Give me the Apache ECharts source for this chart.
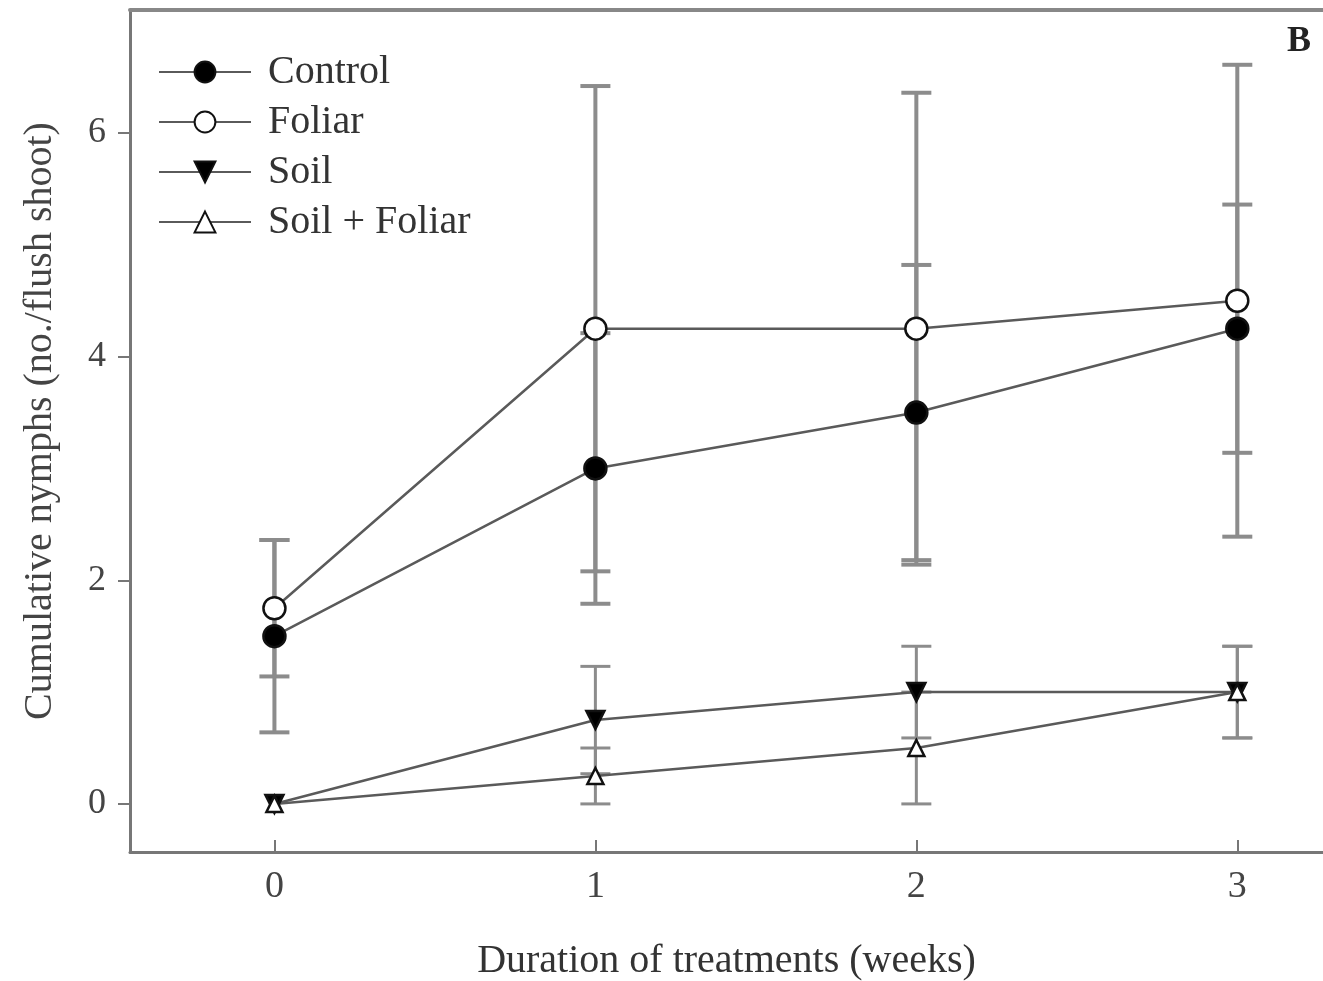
<!DOCTYPE html>
<html>
<head>
<meta charset="utf-8">
<script src="https://cdn.jsdelivr.net/npm/echarts@6/dist/echarts.min.js"></script>
<style>html,body{margin:0;padding:0;background:#fff;}#c{width:1323px;height:981px;}</style>
</head>
<body>
<div id="c"></div>
<script>
const weeks = [0, 1, 2, 3];
const xTicks = [0, 1, 2, 3];
const yTicks = [0, 2, 4, 6];
const control = [1.5, 3.0, 3.5, 4.25];
const controlErr = [0.86, 1.21, 1.32, 1.11];
const foliar = [1.75, 4.25, 4.25, 4.5];
const foliarErr = [0.61, 2.17, 2.11, 2.11];
const soil = [0, 0.75, 1.0, 1.0];
const soilErr = [0, 0.48, 0.41, 0.41];
const soilFoliar = [0, 0.25, 0.5, 1.0];
const soilFoliarErr = [0, 0.25, 0.5, 0.41];

const chart = echarts.init(document.getElementById('c'));
const FONT = '"Liberation Serif", "DejaVu Serif", serif';
const LINE = '#5a5a5a';
const ERR = '#8c8c8c';

function pts(vals){ return weeks.map((w,i)=>[w, vals[i]]); }
function errData(vals, errs){ return weeks.map((w,i)=>[w, vals[i]-errs[i], vals[i]+errs[i]]).filter(d=>d[2]>d[1]); }
function errSeries(vals, errs, width){
  return {
    type: 'custom', z: 1, silent: true,
    data: errData(vals, errs),
    renderItem: function(params, api){
      const lo = api.coord([api.value(0), api.value(1)]);
      const hi = api.coord([api.value(0), api.value(2)]);
      const cw = 15;
      const st = {stroke: ERR, lineWidth: width};
      return {type: 'group', children: [
        {type:'line', shape:{x1:lo[0],y1:lo[1],x2:hi[0],y2:hi[1]}, style:st},
        {type:'line', shape:{x1:lo[0]-cw,y1:lo[1],x2:lo[0]+cw,y2:lo[1]}, style:st},
        {type:'line', shape:{x1:hi[0]-cw,y1:hi[1],x2:hi[0]+cw,y2:hi[1]}, style:st}
      ]};
    }
  };
}
function lineSeries(name, vals, symbol, size, fill, rotate){
  return {
    name: name, type: 'line', z: 3, data: pts(vals),
    symbol: symbol, symbolSize: size, symbolRotate: rotate || 0,
    lineStyle: {color: LINE, width: 2.5},
    itemStyle: {color: fill, borderColor: '#111', borderWidth: 2.5},
    emphasis: {disabled: true}
  };
}

chart.setOption({
  animation: false,
  backgroundColor: '#fff',
  grid: {left: 130, right: 0, top: 10, bottom: 129, containLabel: false, outerBoundsMode: 'none'},
  legend: {
    orient: 'vertical', left: 153, top: 44, itemWidth: 92, itemHeight: 26, itemGap: 4,
    textStyle: {fontFamily: FONT, fontSize: 40, color: '#333', padding: [0,0,0,12], lineHeight: 46},
    data: ['Control', 'Foliar', 'Soil', 'Soil + Foliar']
  },
  xAxis: [{
    type: 'value', min: -0.45, max: 3.267,
    axisLine: {onZero: false, lineStyle: {color: '#777', width: 3}},
    axisTick: {inside: true, length: 12, customValues: xTicks, lineStyle: {color: '#777', width: 2}},
    axisLabel: {customValues: xTicks, fontFamily: FONT, fontSize: 38, color: '#444', margin: 16},
    splitLine: {show: false},
    name: 'Duration of treatments (weeks)', nameLocation: 'middle', nameGap: 89,
    nameTextStyle: {fontFamily: FONT, fontSize: 40, color: '#333'}
  }, {
    type: 'value', position: 'top', min: -0.45, max: 3.267,
    axisLine: {show: true, onZero: false, lineStyle: {color: '#888', width: 4}},
    axisTick: {show: false}, axisLabel: {show: false}, splitLine: {show: false}
  }],
  yAxis: [{
    type: 'value', min: -0.43, max: 7.1,
    axisLine: {onZero: false, lineStyle: {color: '#777', width: 3}},
    axisTick: {inside: false, length: 12, customValues: yTicks, lineStyle: {color: '#777', width: 2}},
    axisLabel: {customValues: yTicks, fontFamily: FONT, fontSize: 36, color: '#444', margin: 24},
    splitLine: {show: false},
    name: 'Cumulative nymphs (no./flush shoot)', nameLocation: 'middle', nameGap: 70, nameRotate: 90,
    nameTextStyle: {fontFamily: FONT, fontSize: 40, color: '#444', padding: [0, 0, 0, 20]}
  }],
  graphic: [{
    type: 'text', right: 12, top: 24,
    style: {text: 'B', font: 'bold 36px "Liberation Serif", serif', fill: '#222'}
  }],
  series: [
    errSeries(foliar, foliarErr, 4),
    errSeries(control, controlErr, 4),
    errSeries(soil, soilErr, 3),
    errSeries(soilFoliar, soilFoliarErr, 3),
    lineSeries('Control', control, 'circle', 22, '#000'),
    lineSeries('Foliar', foliar, 'circle', 22, '#fff'),
    lineSeries('Soil', soil, 'triangle', 18, '#000', 180),
    lineSeries('Soil + Foliar', soilFoliar, 'triangle', 16, '#fff')
  ]
});
</script>
</body>
</html>
